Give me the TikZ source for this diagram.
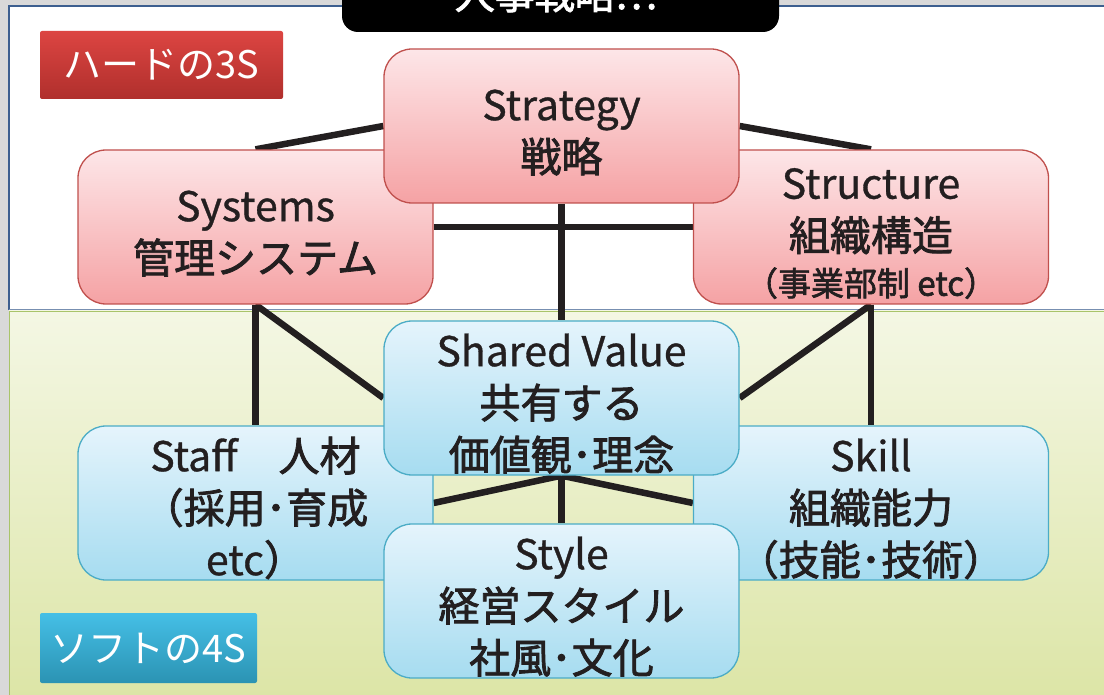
\documentclass[tikz,border=0pt]{standalone}
\usepackage{fontspec}
\setmainfont{Noto Sans CJK JP}
\newfontfamily\jb{Noto Sans CJK JP}[FakeBold=2]
\newfontfamily\lt{Noto Sans CJK JP}[FakeBold=0.8]
\newcommand\bxt[1]{\raisebox{-16pt}[0pt][0pt]{\begin{tabular}[c]{@{}c@{}}#1\end{tabular}}}
\definecolor{slidegray}{HTML}{D9D9D9}
\definecolor{panelblue}{HTML}{3D5F8F}
\definecolor{panelgreen}{HTML}{A9C46A}
\definecolor{greentop}{HTML}{F4F7E4}
\definecolor{greenbot}{HTML}{DCE5A6}
\definecolor{pinktop}{HTML}{FDE6E8}
\definecolor{pinkbot}{HTML}{F5A2A4}
\definecolor{pinkedge}{HTML}{C0504D}
\definecolor{bluetop}{HTML}{E5F4FC}
\definecolor{bluebot}{HTML}{A6DCF0}
\definecolor{blueedge}{HTML}{4BACC6}
\definecolor{redtop}{HTML}{DC4542}
\definecolor{redbot}{HTML}{B02F2C}
\definecolor{cyantop}{HTML}{45BFE6}
\definecolor{cyanbot}{HTML}{2B93B3}
\definecolor{txt}{HTML}{231F20}
\pgfdeclarelayer{panel}
\pgfdeclarelayer{lines}
\pgfsetlayers{panel,lines,main}
\tikzset{
  boxbase/.style={rounded corners=28pt, minimum width=355pt, minimum height=154pt,
    inner sep=0pt, text=txt, line width=1.3pt,
    font=\fontsize{41}{52}\selectfont\lt},
  pinkbox/.style={boxbase, draw=pinkedge, top color=pinktop, bottom color=pinkbot},
  bluebox/.style={boxbase, draw=blueedge, top color=bluetop, bottom color=bluebot},
  conn/.style={draw=txt, line width=6.5pt},
  tag/.style={rounded corners=2pt, inner sep=0pt, text=white,
    font=\fontsize{38}{44}\selectfont}
}
\begin{document}
\begin{tikzpicture}[x=1pt,y=1pt]
\useasboundingbox (0,0) rectangle (1104,-695);
\clip (0,0) rectangle (1104,-695);
\begin{pgfonlayer}{panel}
\fill[slidegray] (0,0) rectangle (1104,-695);
\fill[white] (9,-6) rectangle (1110,-310);
\shade[top color=greentop, bottom color=greenbot] (9,-311) rectangle (1110,-700);
\draw[panelblue, line width=2pt] (9,-310) -- (9,-6) -- (1110,-6);
\draw[panelgreen, line width=1.5pt] (9.5,-700) -- (9.5,-311.5) -- (1110,-311.5);
\draw[panelblue!70, line width=1pt] (9,-309.5) -- (1110,-309.5);
\end{pgfonlayer}
% title box (cut off at the top)
\node[fill=black, rounded corners=16pt, minimum width=437pt, minimum height=70pt,
  inner sep=0pt] (title) at (560.5,3) {};
\node[anchor=base, text=white, font=\fontsize{40}{44}\selectfont\jb] (titletext)
  at (556,-9) {人事戦略…};
% tags
\node[tag, top color=redtop, bottom color=redbot, minimum width=243pt,
  minimum height=68pt] (hard) at (161.5,-65) {ハードの3S};
\node[tag, top color=cyantop, bottom color=cyanbot, minimum width=217pt,
  minimum height=70pt] (soft) at (148.5,-648) {ソフトの4S};
% boxes
\node[pinkbox] (systems) at (255.5,-227) {\bxt{Systems\\{\jb 管理システム}}};
\node[pinkbox] (structure) at (871,-227)
  {\bxt{Structure\\{\jb 組織構造}\\[-7pt]{\fontsize{33}{40}\selectfont\jb （事業部制 etc）}}};
\node[pinkbox] (strategy) at (561.5,-126) {\bxt{Strategy\\{\jb 戦略}}};
\node[bluebox] (staff) at (255.5,-503) {\bxt{Staff　{\jb 人材}\\{\jb （採用･育成}\\etc{\jb ）}}};
\node[bluebox] (skill) at (871,-503) {\bxt{Skill\\{\jb 組織能力}\\{\jb （技能･技術）}}};
\node[bluebox] (sv) at (561.5,-398) {\bxt{Shared Value\\{\jb 共有する}\\{\jb 価値観･理念}}};
\node[bluebox] (style) at (561.5,-601) {\bxt{Style\\{\jb 経営スタイル}\\{\jb 社風･文化}}};
% connectors
\begin{pgfonlayer}{lines}
\draw[conn] (systems.north) -- (strategy.west);
\draw[conn] (strategy.east) -- (structure.north);
\draw[conn] (systems.east) -- (structure.west);
\draw[conn] (strategy.south) -- (sv.north);
\draw[conn] (systems.south) -- (staff.north);
\draw[conn] (systems.south) -- (sv.west);
\draw[conn] (structure.south) -- (skill.north);
\draw[conn] (structure.south) -- (sv.east);
\draw[conn] (sv.south) -- (style.north);
\draw[conn] (staff.east) -- (sv.south);
\draw[conn] (sv.south) -- (skill.west);
\end{pgfonlayer}
\end{tikzpicture}
\end{document}
